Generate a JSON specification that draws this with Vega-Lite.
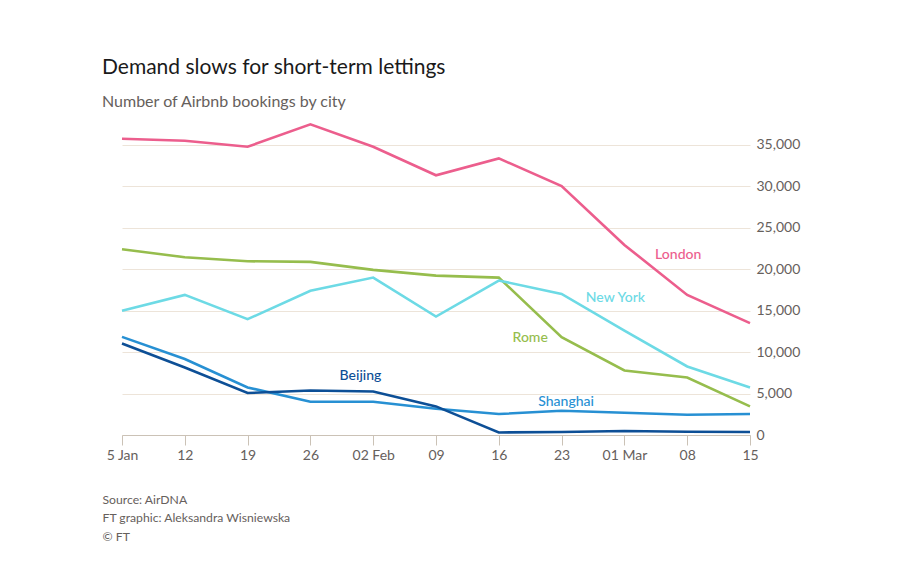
{
  "$schema": "https://vega.github.io/schema/vega-lite/v6.json",
  "autosize": {"type": "none"},
  "width": 628,
  "height": 315,
  "padding": {"left": 122, "top": 120, "right": 150, "bottom": 144},
  "background": "white",
  "title": {
    "text": "Demand slows for short-term lettings",
    "subtitle": "Number of Airbnb bookings by city",
    "anchor": "start",
    "dx": 0,
    "offset": 9,
    "font": "Lato",
    "fontSize": 21,
    "fontWeight": "normal",
    "color": "#1a1a1a",
    "subtitleFont": "Lato",
    "subtitleFontSize": 16,
    "subtitleColor": "#66605C",
    "subtitlePadding": 16
  },
  "datasets": {
    "series": [
      {"date": "2020-01-05", "city": "London", "value": 35730},
      {"date": "2020-01-12", "city": "London", "value": 35490},
      {"date": "2020-01-19", "city": "London", "value": 34770},
      {"date": "2020-01-26", "city": "London", "value": 37470},
      {"date": "2020-02-02", "city": "London", "value": 34770},
      {"date": "2020-02-09", "city": "London", "value": 31330},
      {"date": "2020-02-16", "city": "London", "value": 33370},
      {"date": "2020-02-23", "city": "London", "value": 30040},
      {"date": "2020-03-01", "city": "London", "value": 22930},
      {"date": "2020-03-08", "city": "London", "value": 16900},
      {"date": "2020-03-15", "city": "London", "value": 13490},
      {"date": "2020-01-05", "city": "Rome", "value": 22410},
      {"date": "2020-01-12", "city": "Rome", "value": 21450},
      {"date": "2020-01-19", "city": "Rome", "value": 20960},
      {"date": "2020-01-26", "city": "Rome", "value": 20880},
      {"date": "2020-02-02", "city": "Rome", "value": 19920},
      {"date": "2020-02-09", "city": "Rome", "value": 19230},
      {"date": "2020-02-16", "city": "Rome", "value": 18990},
      {"date": "2020-02-23", "city": "Rome", "value": 11810},
      {"date": "2020-03-01", "city": "Rome", "value": 7790},
      {"date": "2020-03-08", "city": "Rome", "value": 6940},
      {"date": "2020-03-15", "city": "Rome", "value": 3450},
      {"date": "2020-01-05", "city": "New York", "value": 14980},
      {"date": "2020-01-12", "city": "New York", "value": 16900},
      {"date": "2020-01-19", "city": "New York", "value": 13970},
      {"date": "2020-01-26", "city": "New York", "value": 17390},
      {"date": "2020-02-02", "city": "New York", "value": 18990},
      {"date": "2020-02-09", "city": "New York", "value": 14290},
      {"date": "2020-02-16", "city": "New York", "value": 18630},
      {"date": "2020-02-23", "city": "New York", "value": 17020},
      {"date": "2020-03-01", "city": "New York", "value": 12600},
      {"date": "2020-03-08", "city": "New York", "value": 8270},
      {"date": "2020-03-15", "city": "New York", "value": 5740},
      {"date": "2020-01-05", "city": "Shanghai", "value": 11840},
      {"date": "2020-01-12", "city": "Shanghai", "value": 9160},
      {"date": "2020-01-19", "city": "Shanghai", "value": 5740},
      {"date": "2020-01-26", "city": "Shanghai", "value": 4010},
      {"date": "2020-02-02", "city": "Shanghai", "value": 4010},
      {"date": "2020-02-09", "city": "Shanghai", "value": 3170},
      {"date": "2020-02-16", "city": "Shanghai", "value": 2530},
      {"date": "2020-02-23", "city": "Shanghai", "value": 2930},
      {"date": "2020-03-01", "city": "Shanghai", "value": 2690},
      {"date": "2020-03-08", "city": "Shanghai", "value": 2450},
      {"date": "2020-03-15", "city": "Shanghai", "value": 2530},
      {"date": "2020-01-05", "city": "Beijing", "value": 11040},
      {"date": "2020-01-12", "city": "Beijing", "value": 8150},
      {"date": "2020-01-19", "city": "Beijing", "value": 5060},
      {"date": "2020-01-26", "city": "Beijing", "value": 5370},
      {"date": "2020-02-02", "city": "Beijing", "value": 5250},
      {"date": "2020-02-09", "city": "Beijing", "value": 3450},
      {"date": "2020-02-16", "city": "Beijing", "value": 310},
      {"date": "2020-02-23", "city": "Beijing", "value": 360},
      {"date": "2020-03-01", "city": "Beijing", "value": 480},
      {"date": "2020-03-08", "city": "Beijing", "value": 400},
      {"date": "2020-03-15", "city": "Beijing", "value": 360}
    ],
    "labels": [
      {"date": "2020-03-07T00:00:00Z", "city": "London", "value": 21760},
      {"date": "2020-02-29T00:00:00Z", "city": "New York", "value": 16500},
      {"date": "2020-02-19T12:00:00Z", "city": "Rome", "value": 11720},
      {"date": "2020-01-31T14:00:00Z", "city": "Beijing", "value": 7140},
      {"date": "2020-02-23T12:00:00Z", "city": "Shanghai", "value": 4010}
    ]
  },
  "encoding": {
    "x": {
      "field": "date",
      "type": "temporal",
      "scale": {
        "type": "utc",
        "nice": false,
        "domain": [
          {"year": 2020, "month": 1, "date": 5, "utc": true},
          {"year": 2020, "month": 3, "date": 15, "utc": true}
        ]
      },
      "axis": {
        "title": ["Source: AirDNA", "FT graphic: Aleksandra Wisniewska", "© FT"],
        "titleFont": "Lato",
        "titleFontSize": 12.2,
        "titleFontWeight": "normal",
        "titleColor": "#66605C",
        "titleAnchor": "start",
        "titleAlign": "left",
        "titleBaseline": "top",
        "titleX": -20,
        "titleY": 58,
        "titleLineHeight": 18.5,
        "values": [
          {"year": 2020, "month": 1, "date": 5, "utc": true},
          {"year": 2020, "month": 1, "date": 12, "utc": true},
          {"year": 2020, "month": 1, "date": 19, "utc": true},
          {"year": 2020, "month": 1, "date": 26, "utc": true},
          {"year": 2020, "month": 2, "date": 2, "utc": true},
          {"year": 2020, "month": 2, "date": 9, "utc": true},
          {"year": 2020, "month": 2, "date": 16, "utc": true},
          {"year": 2020, "month": 2, "date": 23, "utc": true},
          {"year": 2020, "month": 3, "date": 1, "utc": true},
          {"year": 2020, "month": 3, "date": 8, "utc": true},
          {"year": 2020, "month": 3, "date": 15, "utc": true}
        ],
        "labelExpr": "utcmonth(datum.value) == 0 && utcdate(datum.value) == 5 ? '5 Jan' : (utcdate(datum.value) <= 7 ? utcFormat(datum.value, '%d %b') : utcFormat(datum.value, '%d'))",
        "grid": false,
        "domainColor": "#CBC2B6",
        "tickColor": "#CBC2B6",
        "tickSize": 10,
        "labelPadding": 3,
        "labelFont": "Lato",
        "labelFontSize": 14,
        "labelColor": "#66605C",
        "labelFlush": false,
        "labelOverlap": false
      }
    },
    "y": {
      "field": "value",
      "type": "quantitative",
      "scale": {"domain": [0, 38000], "nice": false},
      "axis": {
        "orient": "right",
        "title": null,
        "values": [0, 5000, 10000, 15000, 20000, 25000, 30000, 35000],
        "format": ",.0f",
        "grid": true,
        "gridColor": "#EDE4D9",
        "gridWidth": 1,
        "domain": false,
        "ticks": false,
        "labelPadding": 6,
        "labelFont": "Lato",
        "labelFontSize": 14,
        "labelColor": "#66605C"
      }
    },
    "color": {
      "field": "city",
      "type": "nominal",
      "legend": null,
      "scale": {
        "domain": ["London", "Rome", "New York", "Shanghai", "Beijing"],
        "range": ["#EC5E8D", "#96BD4D", "#6DDAE5", "#2790D3", "#0D4F96"]
      }
    }
  },
  "layer": [
    {
      "data": {"name": "series"},
      "mark": {"type": "line", "strokeWidth": 2.6, "strokeJoin": "miter"},
      "encoding": {"detail": {"field": "city"}}
    },
    {
      "data": {"name": "labels"},
      "mark": {"type": "text", "font": "Lato", "fontSize": 14, "fontWeight": 500, "align": "center", "baseline": "middle"},
      "encoding": {"text": {"field": "city"}}
    }
  ],
  "config": {"view": {"stroke": null}}
}
